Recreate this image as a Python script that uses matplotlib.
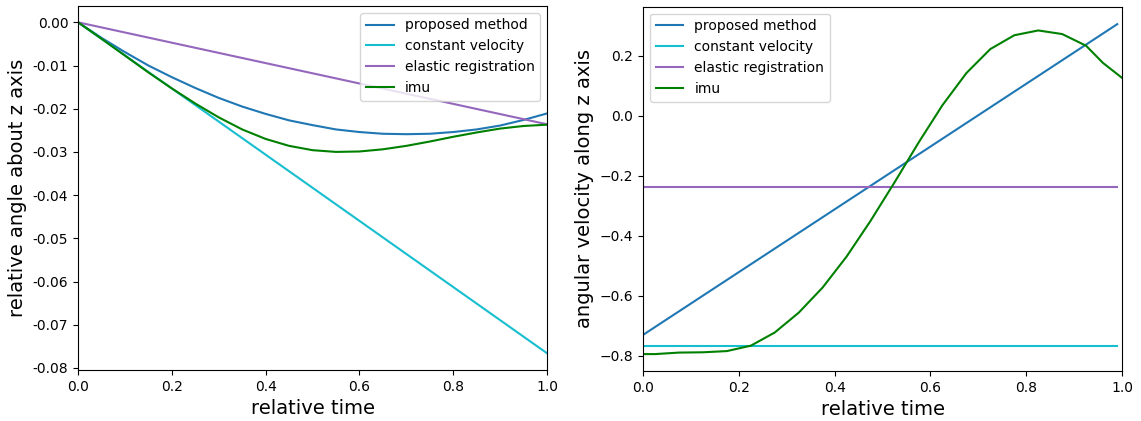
import numpy as np
import matplotlib.pyplot as plt

# relative time samples
t = [0.0, 0.05, 0.1, 0.15, 0.2, 0.25, 0.3, 0.35, 0.4, 0.45, 0.5,
     0.55, 0.6, 0.65, 0.7, 0.75, 0.8, 0.85, 0.9, 0.95, 1.0]

# left panel: relative angle about z axis
angle_proposed = [0.0, -0.0036, -0.0069, -0.0100, -0.0127, -0.0152, -0.0175, -0.0195,
                  -0.0212, -0.0227, -0.0238, -0.0248, -0.0254, -0.0258, -0.0259,
                  -0.0258, -0.0254, -0.0248, -0.0239, -0.0226, -0.0211]
angle_const_end = [0.0, -0.0766]
angle_elastic_end = [0.0, -0.0236]
angle_imu = [0.0, -0.0038, -0.0077, -0.0116, -0.0153, -0.0188, -0.0220, -0.0248,
             -0.0270, -0.0286, -0.0296, -0.0300, -0.0299, -0.0294, -0.0286,
             -0.0276, -0.0265, -0.0255, -0.0246, -0.0240, -0.0237]

# right panel: angular velocity along z axis
vel_t = [0.0, 0.99]
vel_proposed = [-0.73, 0.305]
vel_const = [-0.768, -0.768]
vel_elastic = [-0.236, -0.236]
imu_t = [0.0, 0.025, 0.075, 0.125, 0.175, 0.225, 0.275, 0.325, 0.375, 0.425, 0.475,
         0.525, 0.575, 0.625, 0.675, 0.725, 0.775, 0.825, 0.875, 0.925, 0.96, 1.0]
vel_imu = [-0.794, -0.794, -0.789, -0.788, -0.784, -0.766, -0.722, -0.656, -0.572,
           -0.469, -0.350, -0.222, -0.090, 0.035, 0.142, 0.222, 0.268, 0.284,
           0.272, 0.233, 0.176, 0.126]

angle_ticks = [-0.08, -0.07, -0.06, -0.05, -0.04, -0.03, -0.02, -0.01, 0.0]

fig = plt.figure(figsize=(11.41, 4.21), dpi=100)
ax1 = fig.add_axes([0.0684, 0.121, 0.411, 0.865])
ax2 = fig.add_axes([0.5636, 0.119, 0.4198, 0.865])

ax1.plot(t, angle_proposed, color='tab:blue', label='proposed method')
ax1.plot([0, 1], angle_const_end, color='tab:cyan', label='constant velocity')
ax1.plot([0, 1], angle_elastic_end, color='tab:purple', label='elastic registration')
ax1.plot(t, angle_imu, color='green', label='imu')
ax1.set_xlim(0, 1)
ax1.set_ylim(-0.0805, 0.0038)
ax1.set_yticks(angle_ticks)
ax1.set_yticklabels(['%.2f' % v for v in angle_ticks])
ax1.set_xlabel('relative time', fontsize=14)
ax1.set_ylabel('relative angle about z axis', fontsize=14)
ax1.legend(loc='upper right')

ax2.plot(vel_t, vel_proposed, color='tab:blue', label='proposed method')
ax2.plot(vel_t, vel_const, color='tab:cyan', label='constant velocity')
ax2.plot(vel_t, vel_elastic, color='tab:purple', label='elastic registration')
ax2.plot(imu_t, vel_imu, color='green', label='imu')
ax2.set_xlim(0, 1)
ax2.set_ylim(-0.85, 0.363)
ax2.set_xlabel('relative time', fontsize=14)
ax2.set_ylabel('angular velocity along z axis', fontsize=14)
ax2.legend(loc='upper left')

fig.savefig('out.png', dpi=100)
